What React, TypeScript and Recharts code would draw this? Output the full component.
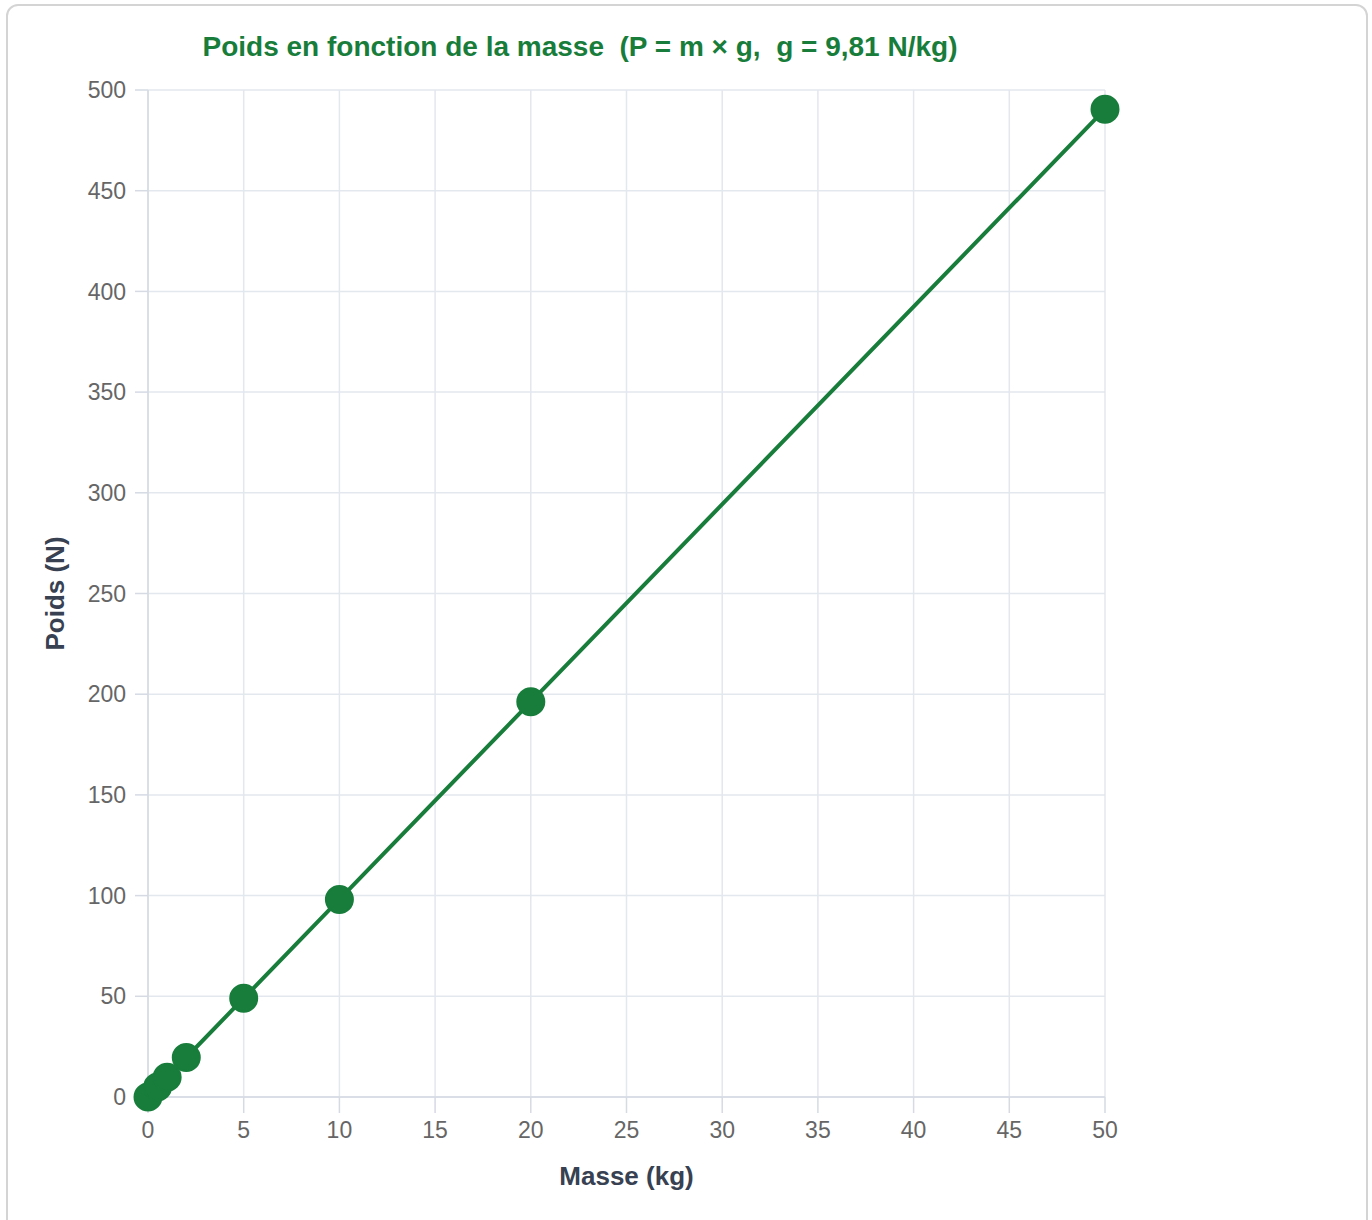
import { CartesianGrid, Line, LineChart, XAxis, YAxis } from "recharts";

const masses = [0, 0.5, 1, 2, 5, 10, 20, 50];
const poids = [0, 4.905, 9.81, 19.62, 49.05, 98.1, 196.2, 490.5];
const xTicks = [0, 5, 10, 15, 20, 25, 30, 35, 40, 45, 50];
const yTicks = [0, 50, 100, 150, 200, 250, 300, 350, 400, 450, 500];

const GREEN = "#187d3b";
const FONT = '"Liberation Sans", Arial, Helvetica, sans-serif';

const data = masses.map((m, i) => ({ masse: m, poids: poids[i] }));

export default function App() {
  return (
    <div
      style={{
        position: "absolute",
        left: 0,
        top: 0,
        width: 1372,
        height: 1220,
        overflow: "hidden",
        background: "#fff",
        fontFamily: FONT,
      }}
    >
      {/* card frame */}
      <div
        style={{
          position: "absolute",
          left: 6,
          top: 4,
          width: 1358,
          height: 1240,
          border: "2px solid #d4d4d4",
          borderRadius: 12,
        }}
      />
      <div
        style={{
          position: "absolute",
          left: 180,
          width: 800,
          top: 31,
          textAlign: "center",
          whiteSpace: "pre",
          fontWeight: "bold",
          fontSize: 28,
          color: GREEN,
        }}
      >
        Poids en fonction de la masse  (P = m × g,  g = 9,81 N/kg)
      </div>
      <div style={{ position: "absolute", left: 0, top: 0 }}>
        <LineChart
          width={1372}
          height={1220}
          data={data}
          margin={{ top: 90, right: 267, bottom: 0, left: 0 }}
        >
          <CartesianGrid stroke="#e3e7ee" strokeWidth={1.5} />
          <XAxis
            dataKey="masse"
            type="number"
            domain={[0, 50]}
            ticks={xTicks}
            height={123}
            tickSize={16}
            tickMargin={9}
            stroke="#d5dae3"
            strokeWidth={1.5}
            tick={{ fill: "#666", fontSize: 23, fontFamily: FONT }}
            label={{
              value: "Masse (kg)",
              position: "insideBottom",
              offset: 35,
              style: {
                fill: "#374151",
                fontSize: 26,
                fontWeight: "bold",
                fontFamily: FONT,
              },
            }}
          />
          <YAxis
            type="number"
            domain={[0, 500]}
            ticks={yTicks}
            width={148}
            tickSize={13}
            tickMargin={9}
            stroke="#d5dae3"
            strokeWidth={1.5}
            tick={{ fill: "#666", fontSize: 23, fontFamily: FONT }}
            label={{
              value: "Poids (N)",
              angle: -90,
              position: "insideLeft",
              offset: 55,
              style: {
                textAnchor: "middle",
                fill: "#374151",
                fontSize: 26,
                fontWeight: "bold",
                fontFamily: FONT,
              },
            }}
          />
          <Line
            type="linear"
            dataKey="poids"
            stroke={GREEN}
            strokeWidth={4}
            dot={{ r: 13.5, fill: GREEN, stroke: GREEN, strokeWidth: 2 }}
            activeDot={false}
            isAnimationActive={false}
          />
        </LineChart>
      </div>
    </div>
  );
}
